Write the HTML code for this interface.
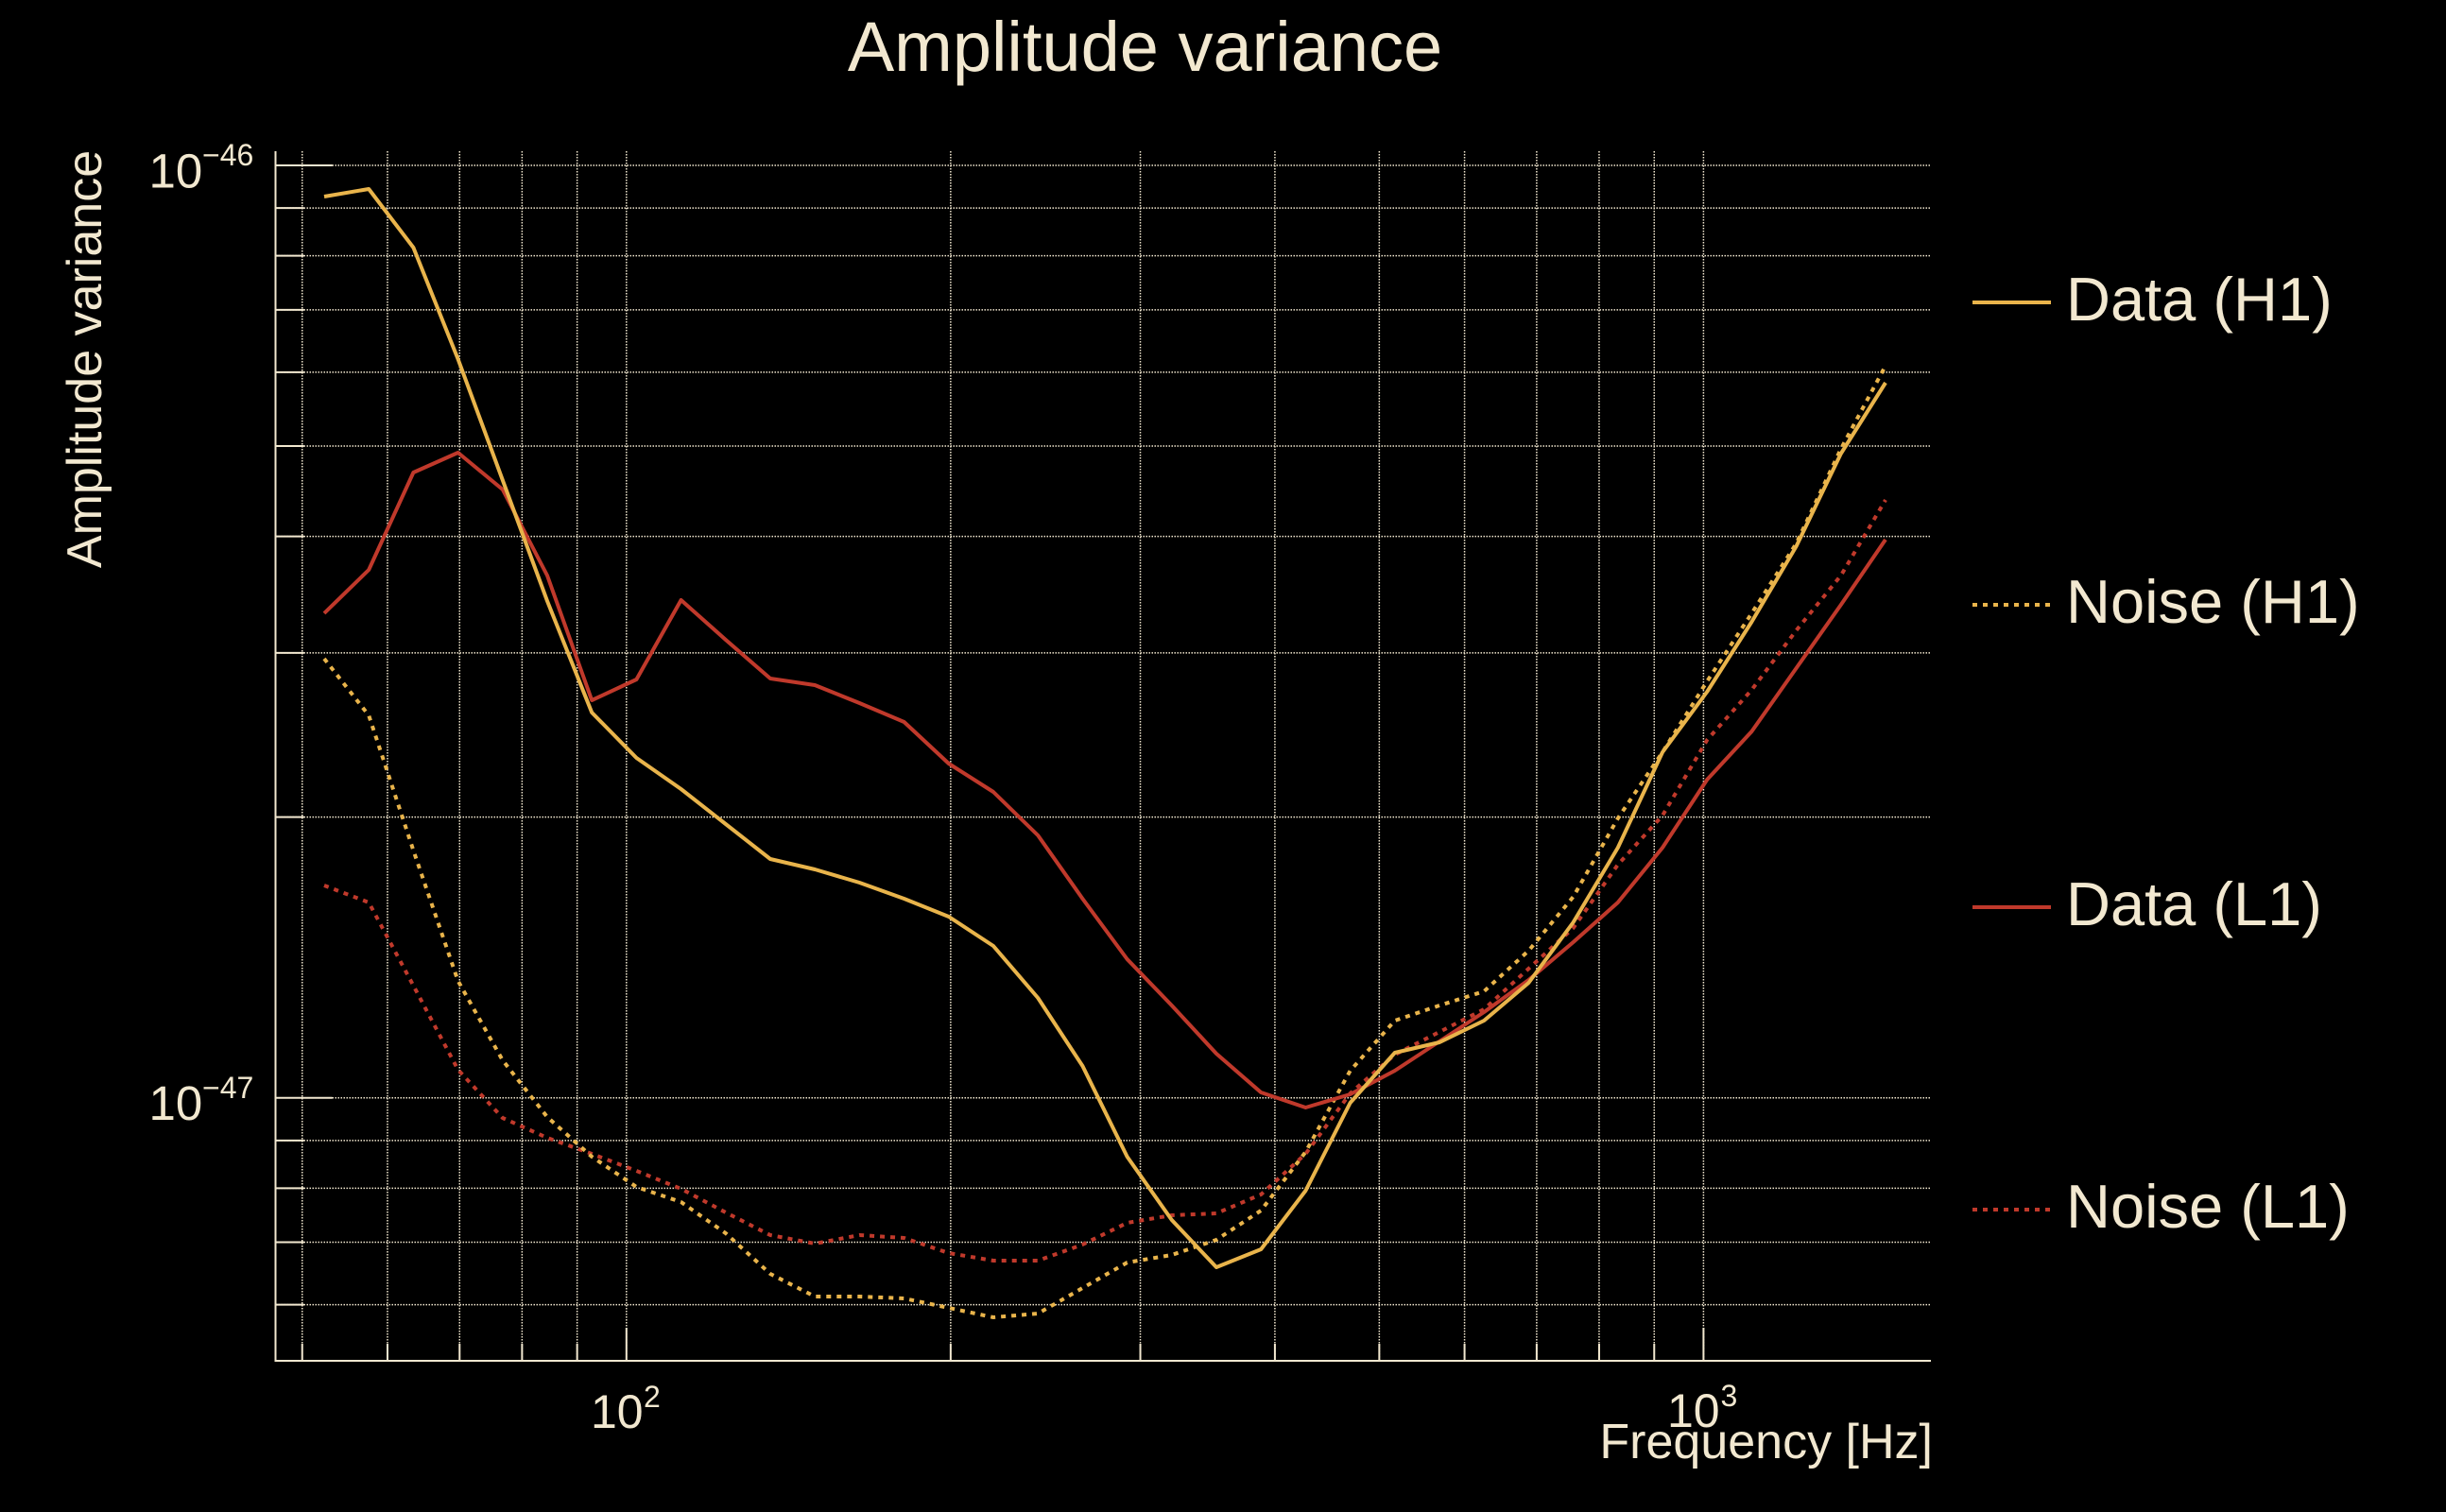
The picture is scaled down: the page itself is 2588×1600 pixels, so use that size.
<!DOCTYPE html>
<html>
<head>
<meta charset="utf-8">
<style>
html,body{margin:0;padding:0;background:#000;}
svg{display:block;}
text{font-family:"Liberation Sans",Arial,sans-serif;fill:#f2e8d0;}
</style>
</head>
<body>
<svg width="2588" height="1600" viewBox="0 0 2588 1600" xmlns="http://www.w3.org/2000/svg">
<rect x="0" y="0" width="2588" height="1600" fill="#000"/>

<!-- Title -->
<text x="1211.5" y="75" font-size="74" text-anchor="middle">Amplitude variance</text>

<!-- Grid: vertical -->
<g stroke="#f2e8d0" stroke-width="1.5" stroke-dasharray="1.5 1.5" fill="none">
<line x1="319.75" y1="160" x2="319.75" y2="1440"/>
<line x1="409.98" y1="160" x2="409.98" y2="1440"/>
<line x1="486.28" y1="160" x2="486.28" y2="1440"/>
<line x1="552.36" y1="160" x2="552.36" y2="1440"/>
<line x1="610.65" y1="160" x2="610.65" y2="1440"/>
<line x1="662.8" y1="160" x2="662.8" y2="1440"/>
<line x1="1005.85" y1="160" x2="1005.85" y2="1440"/>
<line x1="1206.53" y1="160" x2="1206.53" y2="1440"/>
<line x1="1348.91" y1="160" x2="1348.91" y2="1440"/>
<line x1="1459.35" y1="160" x2="1459.35" y2="1440"/>
<line x1="1549.58" y1="160" x2="1549.58" y2="1440"/>
<line x1="1625.88" y1="160" x2="1625.88" y2="1440"/>
<line x1="1691.96" y1="160" x2="1691.96" y2="1440"/>
<line x1="1750.25" y1="160" x2="1750.25" y2="1440"/>
<line x1="1802.4" y1="160" x2="1802.4" y2="1440"/>
</g>
<!-- Grid: horizontal -->
<g stroke="#f2e8d0" stroke-width="1.5" stroke-dasharray="1.5 1.5" fill="none">
<line x1="291.5" y1="175" x2="2043" y2="175"/>
<line x1="291.5" y1="220.15" x2="2043" y2="220.15"/>
<line x1="291.5" y1="270.62" x2="2043" y2="270.62"/>
<line x1="291.5" y1="327.84" x2="2043" y2="327.84"/>
<line x1="291.5" y1="393.9" x2="2043" y2="393.9"/>
<line x1="291.5" y1="472.03" x2="2043" y2="472.03"/>
<line x1="291.5" y1="567.65" x2="2043" y2="567.65"/>
<line x1="291.5" y1="690.93" x2="2043" y2="690.93"/>
<line x1="291.5" y1="864.67" x2="2043" y2="864.67"/>
<line x1="291.5" y1="1161.7" x2="2043" y2="1161.7"/>
<line x1="291.5" y1="1206.85" x2="2043" y2="1206.85"/>
<line x1="291.5" y1="1257.32" x2="2043" y2="1257.32"/>
<line x1="291.5" y1="1314.54" x2="2043" y2="1314.54"/>
<line x1="291.5" y1="1380.6" x2="2043" y2="1380.6"/>
</g>

<!-- Axes -->
<g stroke="#f2e8d0" stroke-width="2" fill="none">
<line x1="291.5" y1="160" x2="291.5" y2="1441"/>
<line x1="290.5" y1="1440" x2="2043" y2="1440"/>
<!-- left ticks -->
<line x1="291.5" y1="175" x2="351.5" y2="175"/>
<line x1="291.5" y1="1161.7" x2="351.5" y2="1161.7"/>
<line x1="291.5" y1="220.15" x2="321.5" y2="220.15"/>
<line x1="291.5" y1="270.62" x2="321.5" y2="270.62"/>
<line x1="291.5" y1="327.84" x2="321.5" y2="327.84"/>
<line x1="291.5" y1="393.9" x2="321.5" y2="393.9"/>
<line x1="291.5" y1="472.03" x2="321.5" y2="472.03"/>
<line x1="291.5" y1="567.65" x2="321.5" y2="567.65"/>
<line x1="291.5" y1="690.93" x2="321.5" y2="690.93"/>
<line x1="291.5" y1="864.67" x2="321.5" y2="864.67"/>
<line x1="291.5" y1="1206.85" x2="321.5" y2="1206.85"/>
<line x1="291.5" y1="1257.32" x2="321.5" y2="1257.32"/>
<line x1="291.5" y1="1314.54" x2="321.5" y2="1314.54"/>
<line x1="291.5" y1="1380.6" x2="321.5" y2="1380.6"/>
<!-- bottom ticks -->
<line x1="662.8" y1="1440" x2="662.8" y2="1405"/>
<line x1="1802.4" y1="1440" x2="1802.4" y2="1405"/>
<line x1="319.75" y1="1440" x2="319.75" y2="1422"/>
<line x1="409.98" y1="1440" x2="409.98" y2="1422"/>
<line x1="486.28" y1="1440" x2="486.28" y2="1422"/>
<line x1="552.36" y1="1440" x2="552.36" y2="1422"/>
<line x1="610.65" y1="1440" x2="610.65" y2="1422"/>
<line x1="1005.85" y1="1440" x2="1005.85" y2="1422"/>
<line x1="1206.53" y1="1440" x2="1206.53" y2="1422"/>
<line x1="1348.91" y1="1440" x2="1348.91" y2="1422"/>
<line x1="1459.35" y1="1440" x2="1459.35" y2="1422"/>
<line x1="1549.58" y1="1440" x2="1549.58" y2="1422"/>
<line x1="1625.88" y1="1440" x2="1625.88" y2="1422"/>
<line x1="1691.96" y1="1440" x2="1691.96" y2="1422"/>
<line x1="1750.25" y1="1440" x2="1750.25" y2="1422"/>
</g>

<!-- Tick labels -->
<text x="157.5" y="198.3" font-size="51">10</text>
<text x="214" y="175" font-size="32">−46</text>
<text x="157.5" y="1185" font-size="51">10</text>
<text x="214" y="1162" font-size="32">−47</text>
<text x="625" y="1511" font-size="50">10</text>
<text x="681" y="1489" font-size="32">2</text>
<text x="1764" y="1510" font-size="50">10</text>
<text x="1820.5" y="1488" font-size="32">3</text>

<!-- Axis labels -->
<text x="2045" y="1543" font-size="52" text-anchor="end">Frequency [Hz]</text>
<text transform="translate(107,380) rotate(-90)" font-size="52" text-anchor="middle">Amplitude variance</text>

<!-- Series -->
<g fill="none" stroke-width="4" stroke-linejoin="round">
<!-- Noise L1 -->
<polyline stroke="#c0392b" stroke-dasharray="5 6" points="343,937 390.2,955 437.4,1043 484.6,1132 531.8,1183 579,1204 626.2,1221 673.4,1239 720.6,1258 767.8,1283 815,1307 862.2,1316 909.4,1307 956.6,1310 1003.8,1326 1051,1334 1098.2,1334 1145.4,1317 1192.6,1294 1239.8,1286 1287,1284 1334.2,1264 1381.4,1221 1428.6,1157 1475.8,1116 1523,1092 1570.2,1068 1617.4,1025 1664.6,982 1711.8,915 1759,863 1806.2,783 1853.4,730 1900.6,667 1947.8,609 1995,529"/>
<!-- Noise H1 -->
<polyline stroke="#e9b44b" stroke-dasharray="5 6" points="343,697 390.2,757 437.4,900 484.6,1038 531.8,1122 579,1182 626.2,1224 673.4,1256 720.6,1272 767.8,1305 815,1348 862.2,1372 909.4,1372 956.6,1374 1003.8,1384 1051,1394 1098.2,1390 1145.4,1363 1192.6,1336 1239.8,1328 1287,1312 1334.2,1281 1381.4,1219 1428.6,1133 1475.8,1080 1523,1064 1570.2,1049 1617.4,1006 1664.6,949 1711.8,866 1759,796 1806.2,721 1853.4,649 1900.6,575 1947.8,475 1995,387"/>
<!-- Data L1 -->
<polyline stroke="#c0392b" points="343,649 390.2,603 437.4,500 484.6,479 531.8,518 579,609 626.2,741 673.4,719 720.6,635 767.8,677 815,718 862.2,725 909.4,744 956.6,764 1003.8,808 1051,838 1098.2,884 1145.4,951 1192.6,1015 1239.8,1064 1287,1115 1334.2,1156 1381.4,1172 1428.6,1158 1475.8,1133 1523,1102 1570.2,1071 1617.4,1037 1664.6,997 1711.8,955 1759,897 1806.2,825 1853.4,774 1900.6,707 1947.8,640 1995,571"/>
<!-- Data H1 -->
<polyline stroke="#e9b44b" points="343,208 390.2,200 437.4,262 484.6,380 531.8,508 579,636 626.2,754 673.4,802 720.6,835 767.8,872 815,909 862.2,920 909.4,934 956.6,951 1003.8,970 1051,1001 1098.2,1056 1145.4,1128 1192.6,1224 1239.8,1291 1287,1341 1334.2,1322 1381.4,1260 1428.6,1167 1475.8,1114 1523,1103 1570.2,1080 1617.4,1040 1664.6,976 1711.8,897 1759,796 1806.2,732 1853.4,658 1900.6,578 1947.8,480 1995,405"/>
</g>

<!-- Legend -->
<g stroke-width="4" fill="none">
<line x1="2087" y1="320" x2="2170" y2="320" stroke="#e9b44b"/>
<line x1="2087" y1="640" x2="2170" y2="640" stroke="#e9b44b" stroke-dasharray="5 6"/>
<line x1="2087" y1="960" x2="2170" y2="960" stroke="#c0392b"/>
<line x1="2087" y1="1280" x2="2170" y2="1280" stroke="#c0392b" stroke-dasharray="5 6"/>
</g>
<text x="2186" y="339" font-size="65">Data (H1)</text>
<text x="2186" y="659" font-size="65">Noise (H1)</text>
<text x="2186" y="979" font-size="65">Data (L1)</text>
<text x="2186" y="1299" font-size="65">Noise (L1)</text>
</svg>
</body>
</html>
